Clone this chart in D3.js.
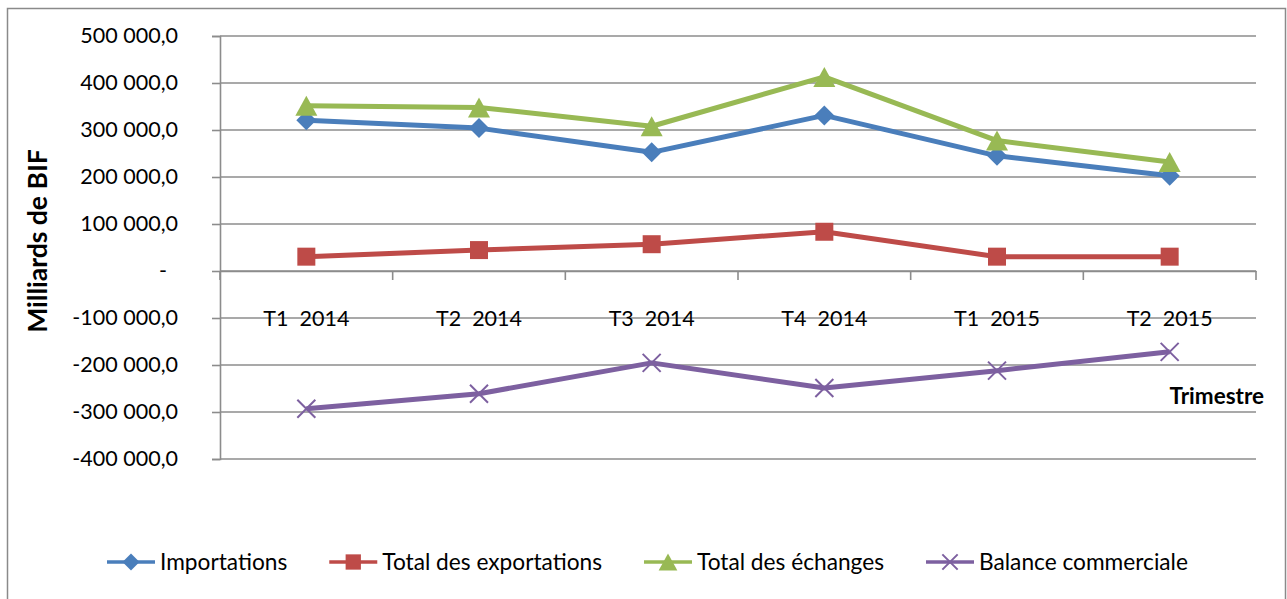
<!DOCTYPE html>
<html>
<head>
<meta charset="utf-8">
<script src="https://cdn.jsdelivr.net/npm/d3@7"></script>
<style>
  body { margin: 0; background: #fff; }
  text { font-family: Lato, "Open Sans", sans-serif; fill: #000; }
</style>
</head>
<body>
<div id="chart"></div>
<script>
// données (milliards de BIF)
const categories = ["T1  2014", "T2  2014", "T3  2014", "T4  2014", "T1  2015", "T2  2015"];
const importations = [321000, 304000, 252500, 331000, 245000, 202500];
const exportations = [30500, 44500, 57000, 83500, 30500, 30500];
const echanges = [351500, 348000, 308000, 413000, 277500, 232000];
const balance = [-293000, -261000, -195500, -249000, -212000, -172000];
const yTicks = [-400000, -300000, -200000, -100000, 0, 100000, 200000, 300000, 400000, 500000];

const series = [
  { name: "Importations", values: importations, color: "#4a7ebb", marker: "diamond" },
  { name: "Total des exportations", values: exportations, color: "#be4b48", marker: "square" },
  { name: "Total des échanges", values: echanges, color: "#98b954", marker: "triangle" },
  { name: "Balance commerciale", values: balance, color: "#7d60a0", marker: "cross" }
];

const width = 1287, height = 599;
const margin = { top: 36, right: 31, bottom: 140, left: 220 };
const grid = "#8c8c8c";

const svg = d3.select("#chart").append("svg")
  .attr("width", width)
  .attr("height", height);

svg.append("rect")
  .attr("x", 7.5).attr("y", 8.5)
  .attr("width", 1278).attr("height", 600)
  .attr("fill", "#fff")
  .attr("stroke", "#8a8a8a")
  .attr("stroke-width", 1.5);

const x = d3.scaleBand().domain(categories).range([margin.left, width - margin.right]);
const y = d3.scaleLinear().domain([-400000, 500000]).range([height - margin.bottom, margin.top]);

const fr = d3.formatLocale({ decimal: ",", thousands: " ", grouping: [3], currency: ["", ""], minus: "-" });
const fmt = fr.format(",.1f");

// quadrillage
svg.append("g")
  .selectAll("line")
  .data(yTicks)
  .join("line")
  .attr("x1", margin.left).attr("x2", width - margin.right)
  .attr("y1", d => y(d)).attr("y2", d => y(d))
  .attr("stroke", grid)
  .attr("stroke-width", 1.6);

// axe vertical
const yAxis = svg.append("g")
  .attr("transform", `translate(${margin.left},0)`)
  .call(d3.axisLeft(y).tickValues(yTicks).tickSize(8).tickPadding(34)
    .tickFormat(d => d === 0 ? "-\u00a0\u00a0" : fmt(d)));
yAxis.select(".domain").attr("stroke", grid).attr("stroke-width", 1.6);
yAxis.selectAll(".tick line").attr("stroke", grid).attr("stroke-width", 1.6);
yAxis.selectAll(".tick text").style("font-size", "21.5px").style("white-space", "pre");

// axe horizontal (à zéro)
const xAxis = svg.append("g")
  .attr("transform", `translate(0,${y(0)})`)
  .call(d3.axisBottom(x).tickSize(0).tickPadding(40));
xAxis.select(".domain").attr("stroke", grid).attr("stroke-width", 1.6);
xAxis.selectAll(".tick text").style("font-size", "21.5px").style("white-space", "pre");

const bounds = categories.map(c => x(c)).concat([x(categories[categories.length - 1]) + x.bandwidth()]);
xAxis.selectAll(".sep")
  .data(bounds)
  .join("line")
  .attr("class", "sep")
  .attr("x1", d => d).attr("x2", d => d)
  .attr("y1", 0).attr("y2", 9)
  .attr("stroke", grid)
  .attr("stroke-width", 1.6);

// formes des marqueurs
function markerPath(type, s) {
  if (type === "diamond") return `M0,${-s}L${s},0L0,${s}L${-s},0Z`;
  if (type === "square") return `M${-s * 0.9},${-s * 0.9}h${s * 1.8}v${s * 1.8}h${-s * 1.8}Z`;
  if (type === "triangle") return `M0,${-s}L${s * 1.1},${s}L${-s * 1.1},${s}Z`;
  return `M${-s * 0.9},${-s * 0.9}L${s * 0.9},${s * 0.9}M${s * 0.9},${-s * 0.9}L${-s * 0.9},${s * 0.9}`;
}

const line = d3.line()
  .x((d, i) => x(categories[i]) + x.bandwidth() / 2)
  .y(d => y(d));

series.forEach(s => {
  const g = svg.append("g");
  g.append("path")
    .datum(s.values)
    .attr("fill", "none")
    .attr("stroke", s.color)
    .attr("stroke-width", 5)
    .attr("stroke-linejoin", "round")
    .attr("d", line);

  g.selectAll("path.m")
    .data(s.values)
    .join("path")
    .attr("class", "m")
    .attr("transform", (d, i) => `translate(${x(categories[i]) + x.bandwidth() / 2},${y(d)})`)
    .attr("d", markerPath(s.marker, 10))
    .attr("fill", s.marker === "cross" ? "none" : s.color)
    .attr("stroke", s.color)
    .attr("stroke-width", s.marker === "cross" ? 2 : 0);
});

// titres des axes
svg.append("text")
  .attr("transform", `translate(47,241) rotate(-90)`)
  .attr("text-anchor", "middle")
  .style("font-size", "26.5px")
  .style("font-weight", "bold")
  .text("Milliards de BIF");

svg.append("text")
  .attr("x", 1264).attr("y", 404)
  .attr("text-anchor", "end")
  .style("font-size", "22.5px")
  .style("font-weight", "bold")
  .text("Trimestre");

// légende
const legend = svg.append("g").attr("transform", "translate(107,562)");
let lx = 0;
series.forEach(s => {
  const item = legend.append("g").attr("transform", `translate(${lx},0)`);
  item.append("line")
    .attr("x1", 0).attr("x2", 48)
    .attr("stroke", s.color)
    .attr("stroke-width", 3.5);
  item.append("path")
    .attr("transform", "translate(24,0)")
    .attr("d", markerPath(s.marker, 8.5))
    .attr("fill", s.marker === "cross" ? "none" : s.color)
    .attr("stroke", s.color)
    .attr("stroke-width", s.marker === "cross" ? 2 : 0);
  const t = item.append("text")
    .attr("x", 53).attr("y", 8)
    .style("font-size", "22.7px")
    .text(s.name);
  lx += 53 + t.node().getComputedTextLength() + 42;
});
</script>
</body>
</html>
